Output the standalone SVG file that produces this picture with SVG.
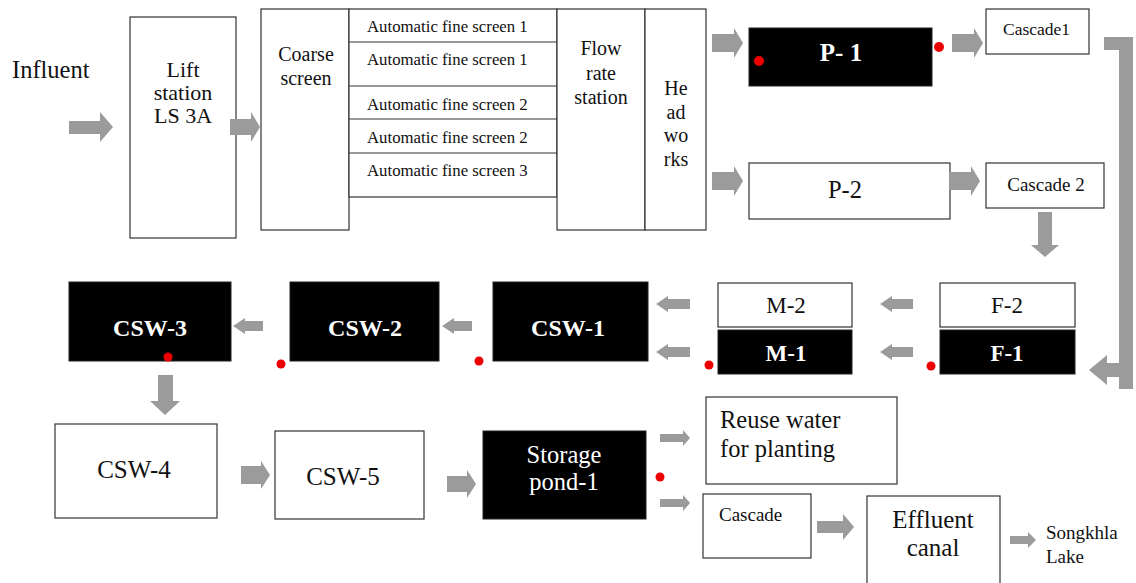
<svg xmlns="http://www.w3.org/2000/svg" width="1136" height="583" viewBox="0 0 1136 583">
<style>
.b{fill:#fff;stroke:#333;stroke-width:1.2}
.k{fill:#000;stroke:#222;stroke-width:1}
.ln{stroke:#333;stroke-width:1.2}
text{font-family:'Liberation Serif','DejaVu Serif','Times New Roman',serif}
.t{fill:#111}
.w{fill:#fff}
.c{text-anchor:middle}
.a{fill:#9b9b9b}
.d{fill:#e00}
</style>
<rect width="1136" height="583" fill="#fff"/>
<g font-family="Liberation Serif, DejaVu Serif, serif">
<text class="t" x="12" y="78" font-size="24.5">Influent</text>

<g id="lift"><rect class="b" x="130" y="17" width="106" height="221"/>
<text class="t c" font-size="22"><tspan x="183" y="77">Lift</tspan><tspan x="183" y="100">station</tspan><tspan x="183" y="123">LS 3A</tspan></text></g>

<g id="coarse"><rect class="b" x="261" y="9" width="88" height="221"/>
<text class="t c" font-size="20"><tspan x="306" y="61">Coarse</tspan><tspan x="306" y="85">screen</tspan></text></g>

<g id="fine"><rect class="b" x="349" y="9" width="208" height="188"/>
<line class="ln" x1="349" y1="42" x2="557" y2="42"/>
<line class="ln" x1="349" y1="86" x2="557" y2="86"/>
<line class="ln" x1="349" y1="119" x2="557" y2="119"/>
<line class="ln" x1="349" y1="153" x2="557" y2="153"/>
<text class="t" font-size="16.8" x="367" y="32">Automatic fine screen 1</text>
<text class="t" font-size="16.8" x="367" y="65">Automatic fine screen 1</text>
<text class="t" font-size="16.8" x="367" y="110">Automatic fine screen 2</text>
<text class="t" font-size="16.8" x="367" y="143">Automatic fine screen 2</text>
<text class="t" font-size="16.8" x="367" y="176">Automatic fine screen 3</text></g>

<g id="flow"><rect class="b" x="557" y="9" width="88" height="221"/>
<text class="t c" font-size="20"><tspan x="601" y="55">Flow</tspan><tspan x="601" y="80">rate</tspan><tspan x="601" y="104">station</tspan></text></g>

<g id="headworks"><rect class="b" x="645" y="9" width="61" height="221"/>
<text class="t c" font-size="20"><tspan x="676" y="95">He</tspan><tspan x="676" y="119">ad</tspan><tspan x="676" y="142">wo</tspan><tspan x="676" y="166">rks</tspan></text></g>

<g id="p1"><rect class="k" x="749" y="28" width="183" height="58"/>
<text class="w c" font-size="25" font-weight="bold" x="841" y="61">P- 1</text></g>
<g id="cascade1"><rect class="b" x="986" y="9" width="103" height="45"/>
<text class="t" font-size="17.5" x="1003" y="35">Cascade1</text></g>
<g id="p2"><rect class="b" x="749" y="163" width="201" height="56"/>
<text class="t c" font-size="24.5" x="845" y="198">P-2</text></g>
<g id="cascade2"><rect class="b" x="986" y="163" width="118" height="45"/>
<text class="t c" font-size="19" x="1046" y="191">Cascade 2</text></g>

<g id="csw3"><rect class="k" x="69" y="282" width="162" height="79"/>
<text class="w c" font-size="24" font-weight="bold" x="150" y="336">CSW-3</text></g>
<g id="csw2"><rect class="k" x="290" y="282" width="149" height="79"/>
<text class="w c" font-size="24" font-weight="bold" x="365" y="336">CSW-2</text></g>
<g id="csw1"><rect class="k" x="493" y="282" width="155" height="79"/>
<text class="w c" font-size="24" font-weight="bold" x="568" y="336">CSW-1</text></g>
<g id="m2"><rect class="b" x="718" y="283" width="134" height="44"/>
<text class="t c" font-size="23" x="786" y="313">M-2</text></g>
<g id="m1"><rect class="k" x="718" y="330" width="134" height="44"/>
<text class="w c" font-size="23" font-weight="bold" x="786" y="361">M-1</text></g>
<g id="f2"><rect class="b" x="940" y="283" width="135" height="44"/>
<text class="t c" font-size="23" x="1007" y="313">F-2</text></g>
<g id="f1"><rect class="k" x="940" y="330" width="135" height="44"/>
<text class="w c" font-size="23" font-weight="bold" x="1007" y="361">F-1</text></g>

<g id="csw4"><rect class="b" x="55" y="424" width="162" height="94"/>
<text class="t c" font-size="25" x="134" y="478">CSW-4</text></g>
<g id="csw5"><rect class="b" x="275" y="431" width="149" height="88"/>
<text class="t c" font-size="25" x="343" y="485">CSW-5</text></g>
<g id="storage"><rect class="k" x="483" y="431" width="163" height="88"/>
<text class="w c" font-size="24.5"><tspan x="564" y="463">Storage</tspan><tspan x="564" y="490">pond-1</tspan></text></g>
<g id="reuse"><rect class="b" x="706" y="397" width="191" height="87"/>
<text class="t" font-size="24.5"><tspan x="720" y="428">Reuse water</tspan><tspan x="720" y="457">for planting</tspan></text></g>
<g id="cascade3"><rect class="b" x="703" y="494" width="108" height="64"/>
<text class="t" font-size="19" x="719" y="521">Cascade</text></g>
<g id="effluent"><rect class="b" x="867" y="496" width="133" height="90"/>
<text class="t c" font-size="25"><tspan x="933" y="528">Effluent</tspan><tspan x="933" y="556">canal</tspan></text></g>
<g id="songkhla"><text class="t" font-size="19"><tspan x="1046" y="539">Songkhla</tspan><tspan x="1046" y="563">Lake</tspan></text></g>
</g>

<g id="dots">
<circle class="d" cx="759" cy="61" r="5"/>
<circle class="d" cx="939" cy="47" r="5"/>
<circle class="d" cx="168" cy="357" r="4.5"/>
<circle class="d" cx="281" cy="364" r="4.5"/>
<circle class="d" cx="479" cy="361" r="4.5"/>
<circle class="d" cx="709" cy="365" r="4.5"/>
<circle class="d" cx="931" cy="366" r="4.5"/>
<circle class="d" cx="660" cy="477" r="4.5"/>
</g>

<g id="connectors">
<polygon class="a" points="69,121 100,121 100,112 113,127 100,142 100,134 69,134"/>
<polygon class="a" points="230,119 251,119 251,112 260,127 251,142 251,135 230,135"/>
<polygon class="a" points="712,34 734,34 734,28 743,43 734,58 734,52 712,52"/>
<polygon class="a" points="952,34 974,34 974,28 983,43 974,58 974,52 952,52"/>
<polygon class="a" points="712,172 734,172 734,166 743,181 734,196 734,190 712,190"/>
<polygon class="a" points="949,172 971,172 971,166 980,181 971,196 971,190 949,190"/>
<polygon class="a" points="1038,212 1052,212 1052,245 1059,245 1045,257 1031,245 1038,245"/>
<polygon class="a" points="1104,37 1133,37 1133,389 1119,389 1119,377 1107,377 1107,385 1089,370 1107,355 1107,363 1119,363 1119,50 1104,50"/>
<polygon class="a" points="233,326 245,318 245,321 263,321 263,331 245,331 245,334"/>
<polygon class="a" points="442,326 454,318 454,321 472,321 472,331 454,331 454,334"/>
<polygon class="a" points="656,304 668,296 668,299 690,299 690,309 668,309 668,312"/>
<polygon class="a" points="656,352 668,344 668,347 690,347 690,357 668,357 668,360"/>
<polygon class="a" points="880,304 892,296 892,299 913,299 913,309 892,309 892,312"/>
<polygon class="a" points="880,352 892,344 892,347 913,347 913,357 892,357 892,360"/>
<polygon class="a" points="158,375 173,375 173,401 180,401 165,415 150,401 158,401"/>
<polygon class="a" points="241,466 261,466 261,461 270,475 261,489 261,484 241,484"/>
<polygon class="a" points="447,476 467,476 467,470 476,484 467,498 467,492 447,492"/>
<polygon class="a" points="660,434 683,434 683,430 690,438 683,446 683,442 660,442"/>
<polygon class="a" points="660,499 683,499 683,495 690,503 683,511 683,507 660,507"/>
<polygon class="a" points="817,521 843,521 843,514 854,527 843,540 843,533 817,533"/>
<polygon class="a" points="1010,536 1028,536 1028,532 1036,540 1028,548 1028,544 1010,544"/>
</g>
</svg>
